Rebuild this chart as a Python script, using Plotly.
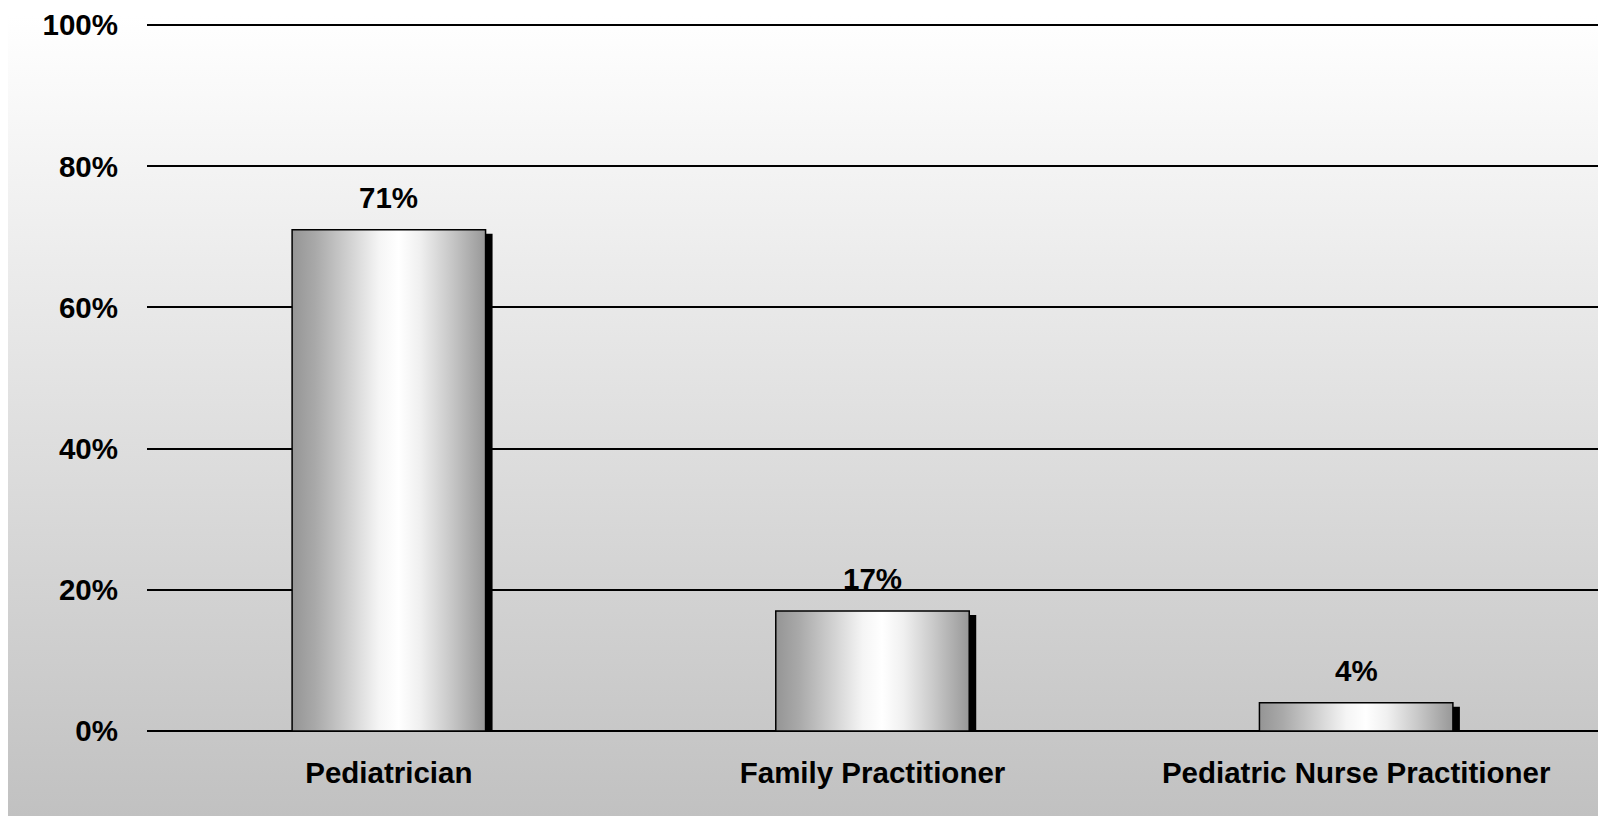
import base64
import plotly.graph_objects as go

categories = ["Pediatrician", "Family Practitioner", "Pediatric Nurse Practitioner"]
values = [71, 17, 4]
value_labels = ["71%", "17%", "4%"]
y_tickvals = [0, 20, 40, 60, 80, 100]
y_ticktext = ["0%", "20%", "40%", "60%", "80%", "100%"]

FONT = "Liberation Sans, Arial, Helvetica, sans-serif"
W, H = 1598, 816
ML, MR, MT, MB = 147, 0, 18, 85
PW, PH = W - ML - MR, H - MT - MB
Y_MAX = 101

BAR_W = 0.4
unit_px = PW / 3.0
SHADOW_W = 7 / unit_px
SHADOW_DY = 4 / (PH / Y_MAX)

xs = list(range(len(categories)))

fig = go.Figure()

# shadows
fig.add_trace(go.Bar(
    x=xs, y=[v - SHADOW_DY for v in values], base=0,
    width=SHADOW_W, offset=BAR_W / 2,
    marker=dict(color="#000000", line=dict(width=0)),
    hoverinfo="skip", showlegend=False,
))

bar_scale = [[0, "#959595"], [0.12, "#a9a9a9"], [0.3, "#d2d2d2"], [0.45, "#f5f5f5"],
             [0.55, "#ffffff"], [0.66, "#f0f0f0"], [0.82, "#c8c8c8"], [1, "#989898"]]

for x, v in zip(xs, values):
    x0, x1 = x - BAR_W / 2, x + BAR_W / 2
    fig.add_trace(go.Scatter(
        x=[x0, x1, x1, x0, x0], y=[0, 0, v, v, 0],
        mode="lines", fill="toself",
        fillgradient=dict(type="horizontal", colorscale=bar_scale),
        line=dict(color="#000000", width=1.5),
        hoverinfo="skip", showlegend=False,
    ))

for x, v, t in zip(xs, values, value_labels):
    fig.add_annotation(x=x, y=v, text=t, showarrow=False, yanchor="bottom",
                       yshift=14, font=dict(family=FONT, size=29.5, color="#000000", weight="bold"))

# background gradient panel (white border strip at left/top)
svg = ('<svg xmlns="http://www.w3.org/2000/svg" width="100" height="100" preserveAspectRatio="none">'
       '<defs><linearGradient id="g" x1="0" y1="0" x2="0" y2="1">'
       '<stop offset="0" stop-color="#ffffff"/><stop offset="0.01" stop-color="#ffffff"/>'
       '<stop offset="1" stop-color="#c1c1c1"/>'
       '</linearGradient></defs><rect width="100" height="100" fill="url(#g)"/></svg>')
src = "data:image/svg+xml;base64," + base64.b64encode(svg.encode()).decode()
bx0, by0 = 8, 8
fig.add_layout_image(dict(
    source=src, xref="paper", yref="paper",
    x=(bx0 - ML) / PW, y=(H - MB - by0) / PH,
    sizex=(W - bx0) / PW, sizey=(H - by0) / PH,
    xanchor="left", yanchor="top", sizing="stretch", layer="below",
))

fig.update_layout(
    width=W, height=H,
    margin=dict(l=ML, r=MR, t=MT, b=MB, pad=0),
    paper_bgcolor="#ffffff", plot_bgcolor="rgba(0,0,0,0)",
    showlegend=False, barmode="overlay",
    font=dict(family=FONT, size=29.5, color="#000000", weight="bold"),
)
fig.update_xaxes(
    range=[-0.5, 2.5], tickmode="array", tickvals=xs, ticktext=categories,
    showgrid=False, zeroline=False, showline=False, ticks="",
    ticklabelstandoff=21,
    tickfont=dict(family=FONT, size=29.5, color="#000000", weight="bold"),
)
fig.update_yaxes(
    range=[0, Y_MAX], tickmode="array", tickvals=y_tickvals, ticktext=y_ticktext,
    showgrid=True, gridcolor="#000000", gridwidth=2,
    zeroline=True, zerolinecolor="#000000", zerolinewidth=2,
    showline=False, ticks="", ticklabelstandoff=28,
    tickfont=dict(family=FONT, size=29.5, color="#000000", weight="bold"),
)

fig.write_html(
    "out.html",
    config={"displayModeBar": False},
    post_script="document.body.style.margin='0';document.body.style.overflow='hidden';",
)
